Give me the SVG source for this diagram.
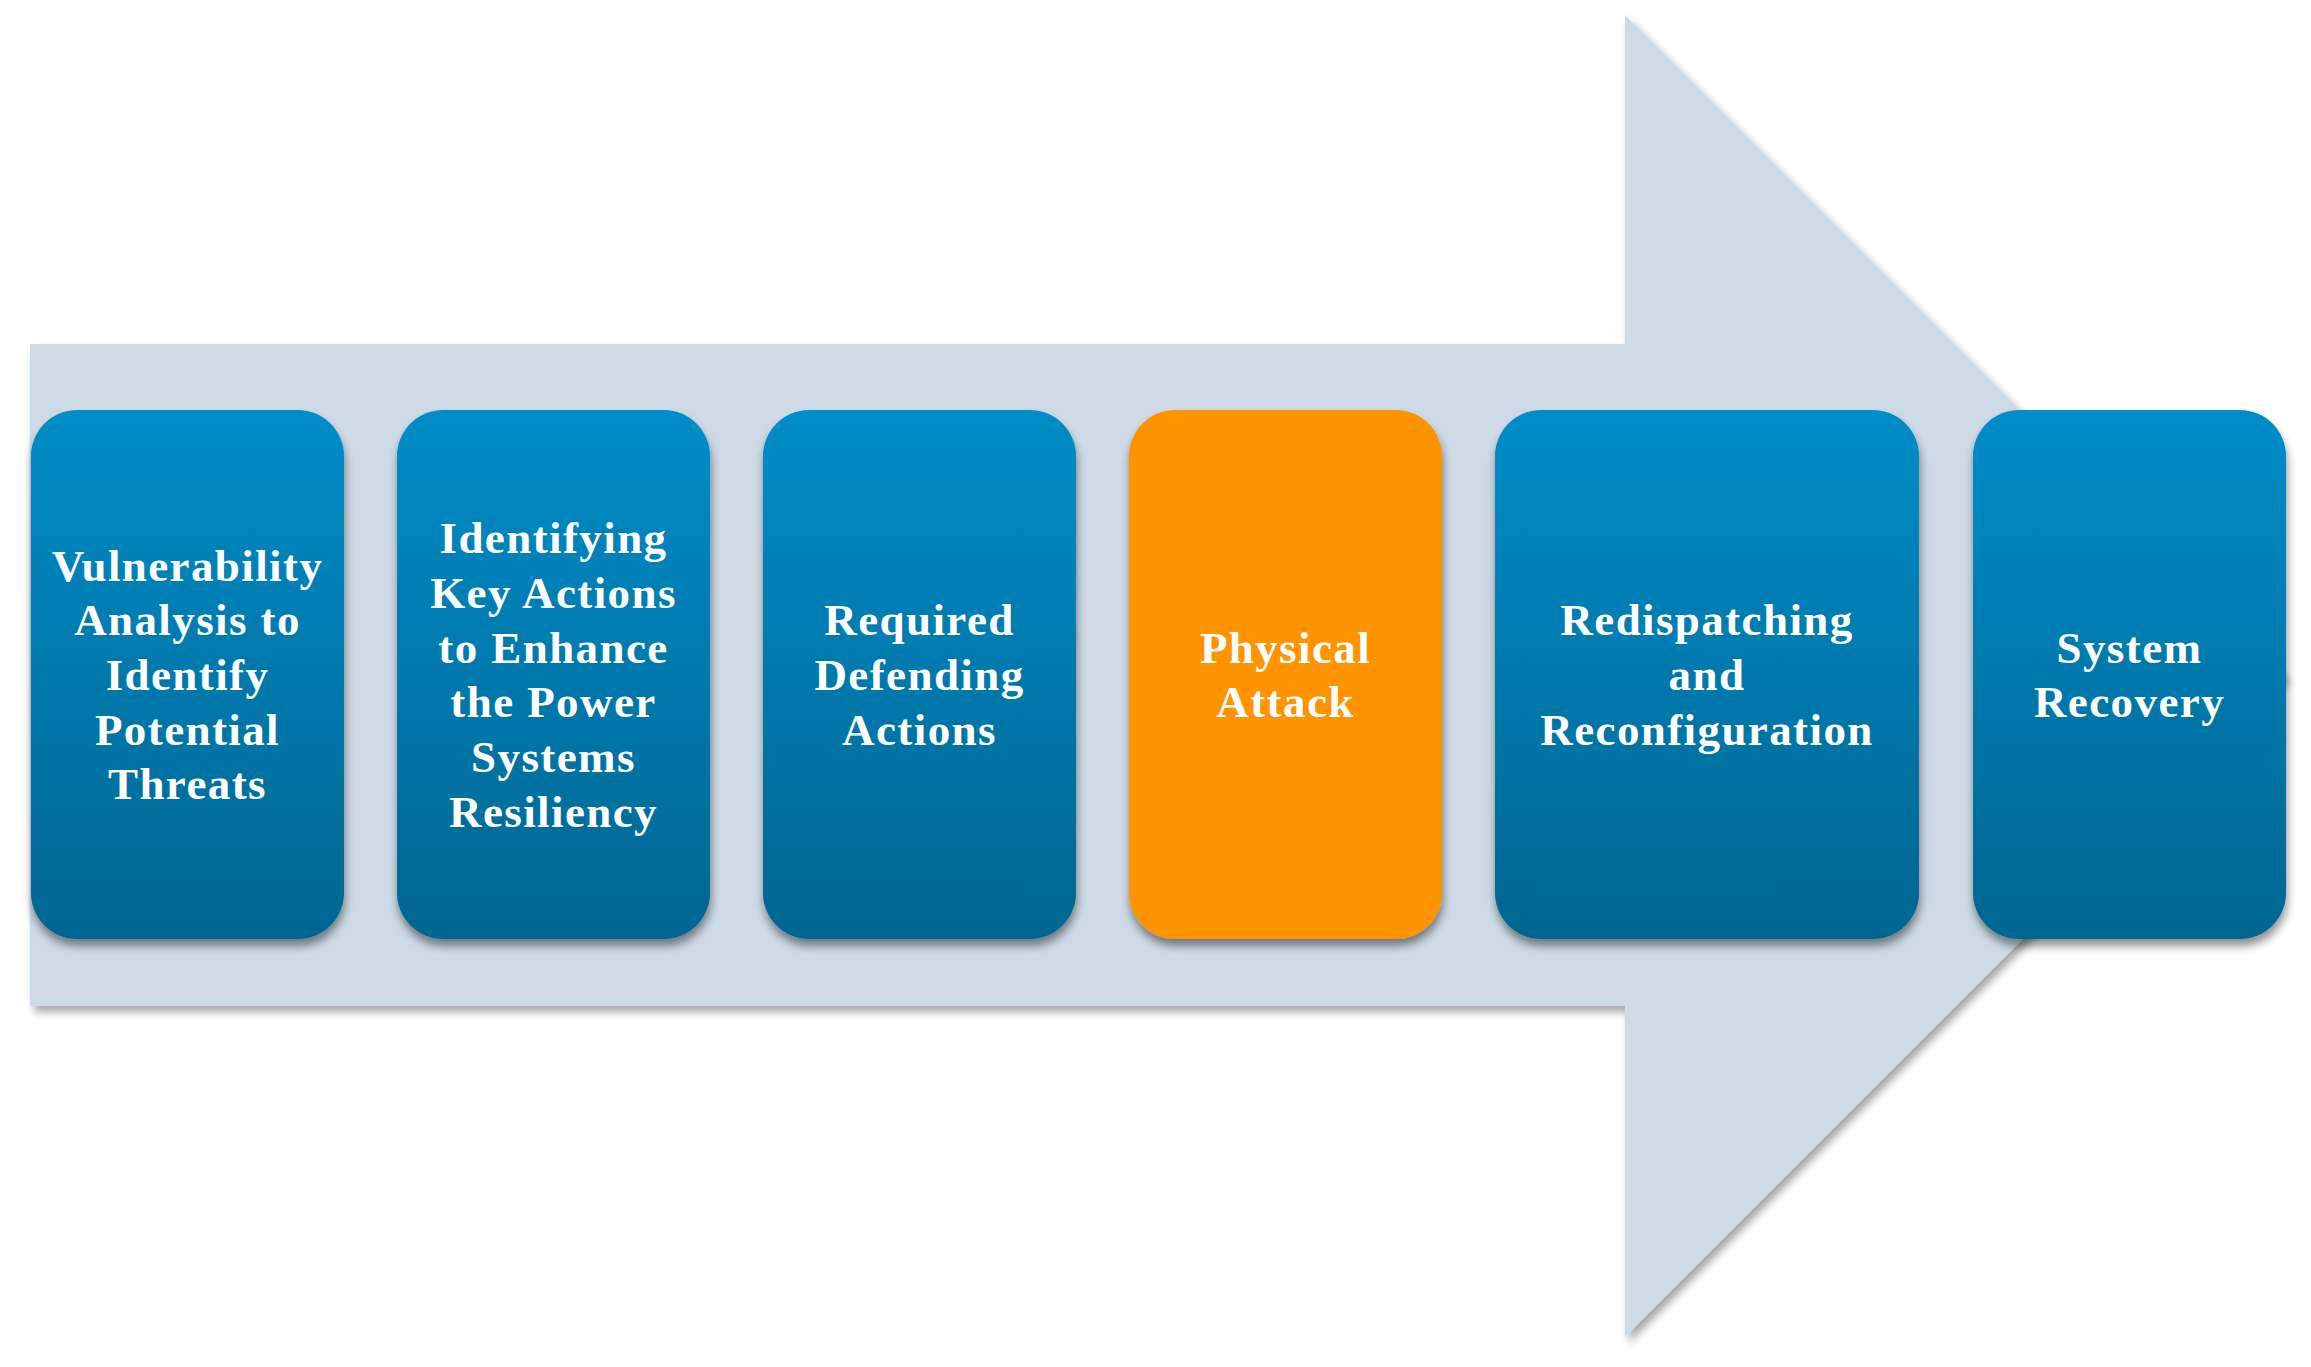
<svg xmlns="http://www.w3.org/2000/svg" width="2311" height="1367" viewBox="0 0 2311 1367">
<style>
.lbl{font-family:"Liberation Serif","Times New Roman",serif;font-weight:bold;font-size:45px;letter-spacing:1.4px;fill:#ffffff;text-anchor:middle}
.blue{fill:url(#bg)}
.orange{fill:#FF9300}
</style>
<defs>
<linearGradient id="bg" x1="0" y1="0" x2="0" y2="1">
<stop offset="0" stop-color="#008DC8"/>
<stop offset="1" stop-color="#006591"/>
</linearGradient>
<filter id="sh" x="-10%" y="-10%" width="120%" height="125%">
<feGaussianBlur in="SourceAlpha" stdDeviation="5"/>
<feOffset dx="1" dy="7" result="b"/>
<feComponentTransfer><feFuncA type="linear" slope="0.45"/></feComponentTransfer>
<feMerge><feMergeNode/><feMergeNode in="SourceGraphic"/></feMerge>
</filter>
<filter id="ash" x="-5%" y="-5%" width="110%" height="110%">
<feGaussianBlur in="SourceAlpha" stdDeviation="4"/>
<feOffset dx="4" dy="6" result="b"/>
<feComponentTransfer><feFuncA type="linear" slope="0.35"/></feComponentTransfer>
<feMerge><feMergeNode/><feMergeNode in="SourceGraphic"/></feMerge>
</filter>
</defs>
<rect width="2311" height="1367" fill="#ffffff"/>
<g id="arrow">
<polygon points="30,344 1625,344 1625,15 2286,676 1625,1337 1625,1006 30,1006" fill="#CEDBE6" filter="url(#ash)"/>
</g>
<g id="n1">
<rect class="blue" x="31" y="410" width="313" height="529" rx="46" filter="url(#sh)"/>
<text class="lbl"><tspan x="187.5" y="580.6">Vulnerability</tspan><tspan x="187.5" y="635.3">Analysis to</tspan><tspan x="187.5" y="690">Identify</tspan><tspan x="187.5" y="744.7">Potential</tspan><tspan x="187.5" y="799.4">Threats</tspan></text>
</g>
<g id="n2">
<rect class="blue" x="397" y="410" width="313" height="529" rx="46" filter="url(#sh)"/>
<text class="lbl"><tspan x="553.5" y="553.3">Identifying</tspan><tspan x="553.5" y="608">Key Actions</tspan><tspan x="553.5" y="662.7">to Enhance</tspan><tspan x="553.5" y="717.4">the Power</tspan><tspan x="553.5" y="772.1">Systems</tspan><tspan x="553.5" y="826.8">Resiliency</tspan></text>
</g>
<g id="n3">
<rect class="blue" x="763" y="410" width="313" height="529" rx="46" filter="url(#sh)"/>
<text class="lbl"><tspan x="919.5" y="635.3">Required</tspan><tspan x="919.5" y="690">Defending</tspan><tspan x="919.5" y="744.7">Actions</tspan></text>
</g>
<g id="n4">
<rect class="orange" x="1129" y="410" width="313" height="529" rx="46" filter="url(#sh)"/>
<text class="lbl"><tspan x="1285.5" y="662.7">Physical</tspan><tspan x="1285.5" y="717.4">Attack</tspan></text>
</g>
<g id="n5">
<rect class="blue" x="1495" y="410" width="424" height="529" rx="46" filter="url(#sh)"/>
<text class="lbl"><tspan x="1707" y="635.3">Redispatching</tspan><tspan x="1707" y="690">and</tspan><tspan x="1707" y="744.7">Reconfiguration</tspan></text>
</g>
<g id="n6">
<rect class="blue" x="1973" y="410" width="313" height="529" rx="46" filter="url(#sh)"/>
<text class="lbl"><tspan x="2129.5" y="662.7">System</tspan><tspan x="2129.5" y="717.4">Recovery</tspan></text>
</g>
</svg>
